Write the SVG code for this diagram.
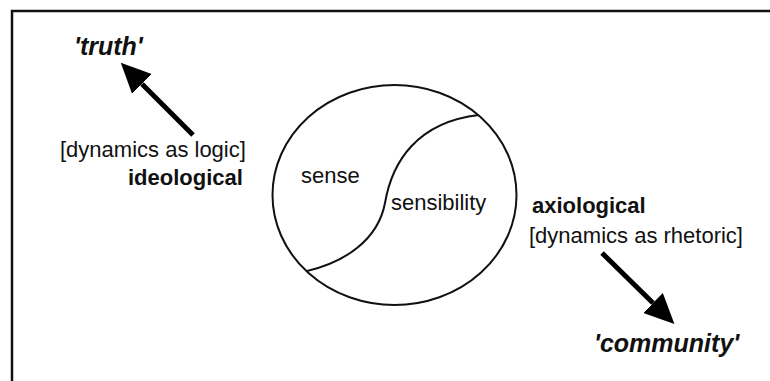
<svg xmlns="http://www.w3.org/2000/svg" width="770" height="381" viewBox="0 0 770 381">
<style>
text{font-family:"Liberation Sans",Arial,sans-serif;fill:#111}
.q{font-size:25px;font-weight:bold;font-style:italic}
.b{font-size:22px;font-weight:bold}
.r{font-size:22px}
.line{fill:none;stroke:#111;stroke-width:2}
.shaft{stroke:#000;stroke-width:5;fill:none}
</style>
<defs>
<marker id="ah" markerUnits="userSpaceOnUse" viewBox="0 -14 30 28" refX="0" refY="0" markerWidth="30" markerHeight="28" orient="auto">
<path d="M0,-14 L30,0 L0,14 z" fill="#000"/>
</marker>
</defs>
<path d="M12,381 L12,11 L770,11" fill="none" stroke="#111" stroke-width="2.5"/>
<g id="circle">
<ellipse class="line" cx="394.5" cy="195" rx="122" ry="110"/>
<path class="line" d="M307,271 C345,262 378,240 385,203 C392,162 417,122 479,115"/>
<text class="r" x="301" y="183">sense</text>
<text class="r" x="391" y="210">sensibility</text>
</g>
<g id="truth">
<text class="q" x="74" y="55">'truth'</text>
</g>
<g id="ideological">
<text class="r" x="60" y="157">[dynamics as logic]</text>
<text class="b" x="128" y="185">ideological</text>
</g>
<g id="axiological">
<text class="b" x="532" y="213">axiological</text>
<text class="r" x="529" y="243">[dynamics as rhetoric]</text>
</g>
<g id="community">
<text class="q" x="594" y="352">'community'</text>
</g>
<g id="connectors">
<line class="shaft" x1="193" y1="135" x2="142" y2="84" marker-end="url(#ah)"/>
<line class="shaft" x1="602" y1="253" x2="653" y2="303" marker-end="url(#ah)"/>
</g>
</svg>
